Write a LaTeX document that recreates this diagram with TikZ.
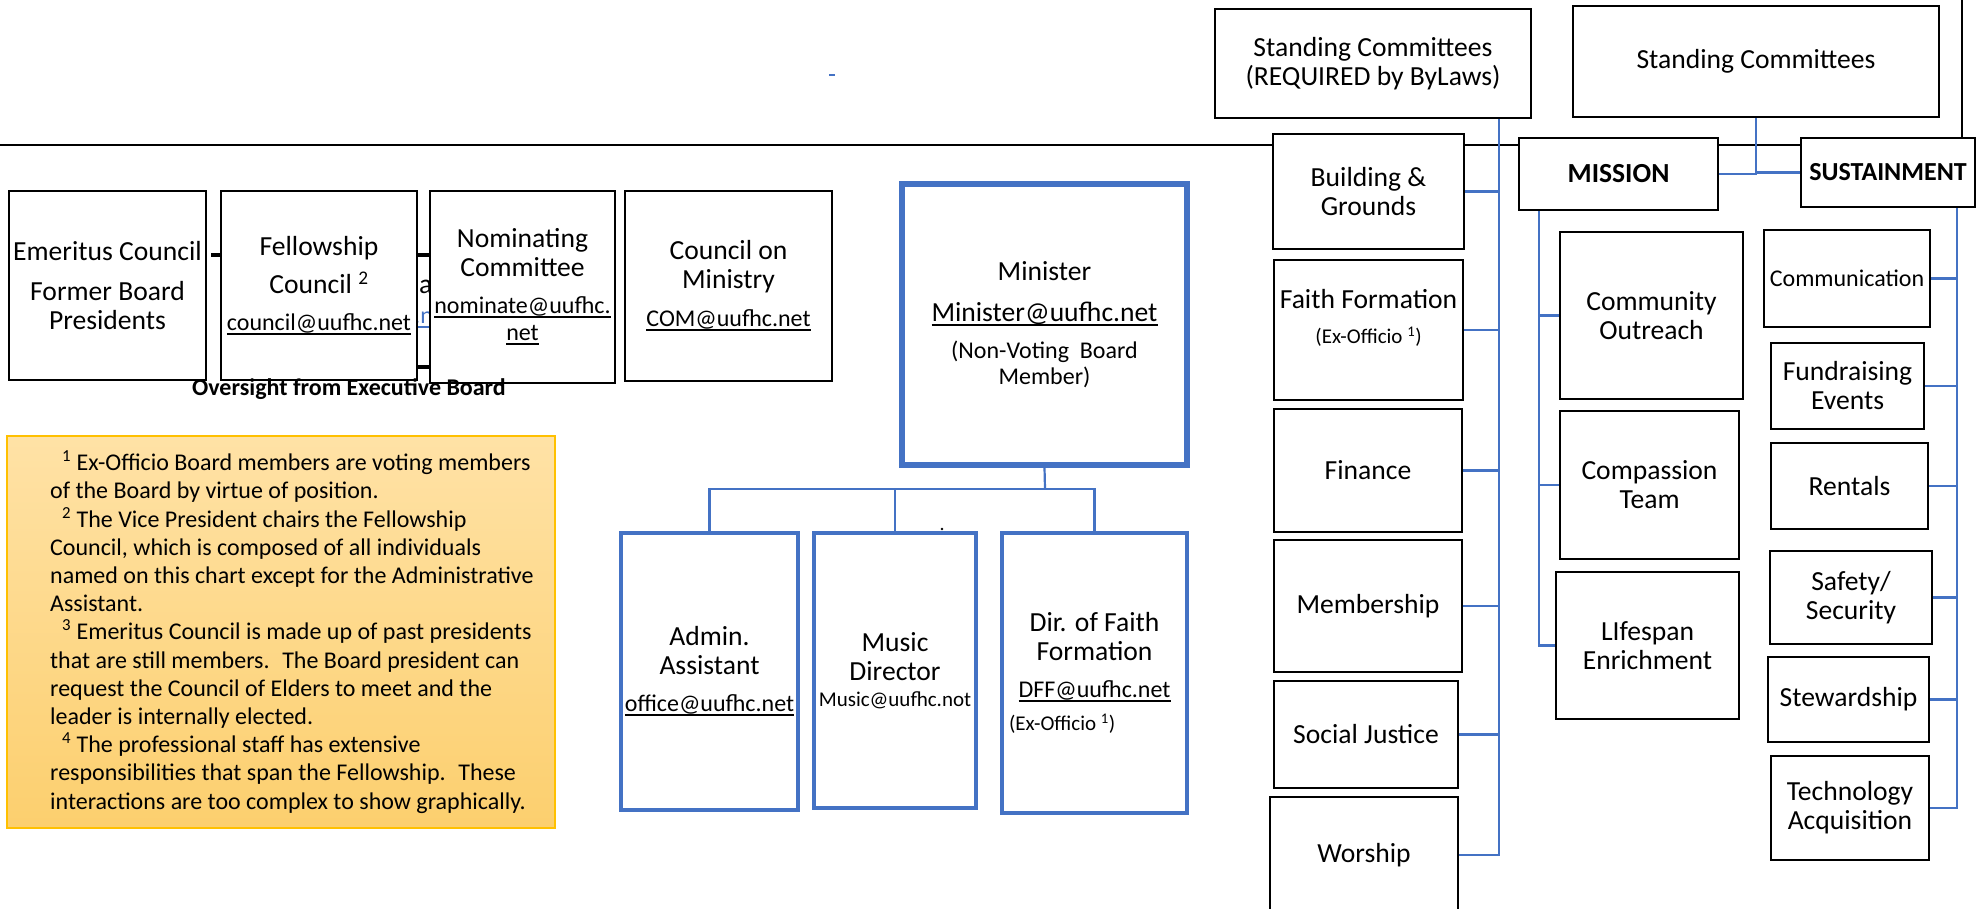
\documentclass[tikz,border=0pt]{standalone}
\usepackage{fontspec}
\setmainfont{Carlito}
\definecolor{uublue}{HTML}{4472C4}
\definecolor{notegold}{HTML}{FFC000}
\definecolor{notetop}{HTML}{FFE2A6}
\definecolor{notebottom}{HTML}{FCCF6E}
\newcommand{\boxfont}{\fontsize{27.6}{29}\selectfont}
\newcommand{\mailfont}{\fontsize{24}{27}\selectfont}
\newcommand{\exfont}{\fontsize{21}{24}\selectfont}
\newcommand{\addr}[1]{\setbox0=\hbox{#1}\rlap{\rule[-4.5pt]{\wd0}{2pt}}\box0}
\tikzstyle{committee} = [rectangle,
draw=black,
line width=2.2pt,
fill=white,
text centered,
align=center,
inner sep=2pt,
font=\boxfont]
\tikzstyle{branch} = [committee,
font=\boxfont\bfseries]
\tikzstyle{staff} = [rectangle,
draw=uublue,
line width=3.5pt,
fill=white,
text centered,
align=center,
inner sep=2pt,
font=\boxfont]
\tikzstyle{lead} = [staff, line width=5.5pt]
\tikzstyle{notebox} = [rectangle,
draw=notegold,
line width=1.5pt,
top color=notetop,
bottom color=notebottom]
\tikzstyle{notetext} = [align=left, inner sep=0pt, font=\fontsize{24}{28.2}\selectfont]
\tikzstyle{link} = [draw=uublue, line width=2.2pt]
\tikzstyle{boardline} = [draw=black, line width=2.6pt]

\begin{document}
\begin{tikzpicture}[x=1pt, y=-1pt]
\fill[white] (0,0) rectangle (1977,909);
\useasboundingbox (0,0) rectangle (1977,909);
\draw[boardline] (0,145) -- (1962,145) -- (1962,0);

% left-over bits behind the councils
\draw[line width=4pt] (211,255) -- (222,255) (416,255) -- (432,255) (416,367) -- (432,367);
\node (hiddena) [anchor=base west, inner sep=0pt, font=\boxfont] at (419,294) {a};
\node (hiddenmail) [anchor=base west, inner sep=0pt, font=\mailfont, text=uublue] at (414,323) {\addr{.net}};
\draw[uublue, line width=1.5pt] (829,75) -- (835,75);
\fill (942,529) circle (1.3);

\node (emeritus) [committee, minimum width=197pt, minimum height=189pt] at (107.5,285.5) {Emeritus Council\\[11pt]Former Board\\Presidents};
\node (fellowship) [committee, minimum width=196pt, minimum height=189pt] at (319,285.5) {Fellowship\\[9pt]Council \textsuperscript{2}\\[8pt]{\mailfont\addr{council@uufhc.net}}};
\node (nominating) [committee, minimum width=185pt, minimum height=192pt] at (522.5,287) {Nominating\\Committee\\[8pt]{\mailfont\addr{nominate@uufhc.}}\\[-2pt]{\mailfont\addr{net}}};
\node (ministry) [committee, minimum width=207pt, minimum height=190pt] at (728.5,286) {Council on\\Ministry\\[9pt]{\mailfont\addr{COM@uufhc.net}}};
\node (oversight) [font=\mailfont\bfseries] at (349,389) {Oversight from Executive Board};

\node (minister) [lead, minimum width=285pt, minimum height=281pt] at (1044.5,324.5) {Minister\\[12pt]\addr{Minister@uufhc.net}\\[8pt]{\mailfont (Non-Voting~~Board}\\[-3pt]{\mailfont Member)}};
\node (admin) [staff, minimum width=177pt, minimum height=277pt] at (709.5,671.5) {Admin.\\Assistant\\[8pt]{\mailfont\addr{office@uufhc.net}}};
\node (music) [staff, minimum width=162pt, minimum height=275pt] at (895,670.5) {Music\\Director\\[-3pt]{\exfont Music@uufhc.not}};
\node (dff) [staff, minimum width=185pt, minimum height=280pt] at (1094.5,673) {Dir. of Faith\\Formation\\[8pt]{\mailfont\addr{DFF@uufhc.net}}\\[4pt]\makebox[171pt][l]{\exfont(Ex-Officio \textsuperscript{1})}};

\node (screq) [committee, minimum width=316pt, minimum height=109pt] at (1373,63.5) {Standing Committees\\(REQUIRED by ByLaws)};
\node (scgen) [committee, minimum width=366pt, minimum height=111pt] at (1756,61.5) {Standing Committees};
\node (building) [committee, minimum width=191pt, minimum height=115pt] at (1368.5,191.5) {Building \&\\Grounds};
\node (faith) [committee, minimum width=189pt, minimum height=140pt] at (1368.5,330) {};
\node (faithtext) [align=center, font=\boxfont] at (1368.5,318) {Faith Formation\\[6pt]{\exfont(Ex-Officio \textsuperscript{1})}};
\node (finance) [committee, minimum width=188pt, minimum height=123pt] at (1368,470.5) {Finance};
\node (membership) [committee, minimum width=188pt, minimum height=132pt] at (1368,606) {Membership};
\node (justice) [committee, minimum width=184pt, minimum height=107pt] at (1366,734.5) {Social Justice};
\node (worship) [committee, minimum width=188pt, minimum height=116pt] at (1364,855) {Worship};

\node (mission) [branch, minimum width=199pt, minimum height=72pt] at (1618.5,174) {MISSION};
\node (sustain) [branch, font=\fontsize{26}{29}\selectfont\bfseries, minimum width=174pt, minimum height=69pt] at (1888,172.5) {SUSTAINMENT};
\node (outreach) [committee, minimum width=183pt, minimum height=167pt] at (1651.5,315.5) {Community\\Outreach};
\node (compassion) [committee, minimum width=179pt, minimum height=148pt] at (1649.5,485) {Compassion\\Team};
\node (lifespan) [committee, minimum width=183pt, minimum height=147pt] at (1647.5,645.5) {LIfespan\\Enrichment};
\node (communication) [committee, font=\mailfont, minimum width=166pt, minimum height=97pt] at (1847,278.5) {Communication};
\node (fundraising) [committee, minimum width=153pt, minimum height=86pt] at (1847.5,386) {Fundraising\\Events};
\node (rentals) [committee, minimum width=157pt, minimum height=86pt] at (1849.5,486) {Rentals};
\node (safety) [committee, minimum width=162pt, minimum height=93pt] at (1851,597.5) {Safety/\\Security};
\node (stewardship) [committee, minimum width=161pt, minimum height=85pt] at (1848.5,699.5) {Stewardship};
\node (technology) [committee, minimum width=158pt, minimum height=104pt] at (1850,808) {Technology\\Acquisition};

\node (notes) [notebox, minimum width=548pt, minimum height=392pt] at (281,632) {};
\node (notestext) [notetext, anchor=west] at (50,632) {\hspace*{12pt}\textsuperscript{1} Ex-Officio Board members are voting members\\of the Board by virtue of position.\\\hspace*{12pt}\textsuperscript{2} The Vice President chairs the Fellowship\\Council, which is composed of all individuals\\named on this chart except for the Administrative\\Assistant.\\\hspace*{12pt}\textsuperscript{3} Emeritus Council is made up of past presidents\\that are still members.~ The Board president can\\request the Council of Elders to meet and the\\leader is internally elected.\\\hspace*{12pt}\textsuperscript{4} The professional staff has extensive\\responsibilities that span the Fellowship.~ These\\interactions are too complex to show graphically.};

\coordinate (reqspine) at (1499,0);
\coordinate (misspine) at (1539,0);
\coordinate (susspine) at (1957,0);
\coordinate (bus) at (1045,489);

\draw[link] (screq.south -| reqspine) |- (worship.east);
\foreach \n in {building,faith,finance,membership,justice}
  \draw[link] (\n.east) -- (\n.east -| reqspine);
\draw[link] (scgen.south) |- (mission.east);
\draw[link] (scgen.south) |- (sustain.west);
\draw[link] (mission.south -| misspine) |- (lifespan.west);
\foreach \n in {outreach,compassion}
  \draw[link] (\n.west) -- (\n.west -| misspine);
\draw[link] (sustain.south -| susspine) |- (technology.east);
\foreach \n in {communication,fundraising,rentals,safety,stewardship}
  \draw[link] (\n.east) -- (\n.east -| susspine);
\draw[link] (minister.south) -- (bus);
\foreach \n in {admin,music,dff}
  \draw[link] (\n.north) |- (bus);
\end{tikzpicture}
\end{document}
